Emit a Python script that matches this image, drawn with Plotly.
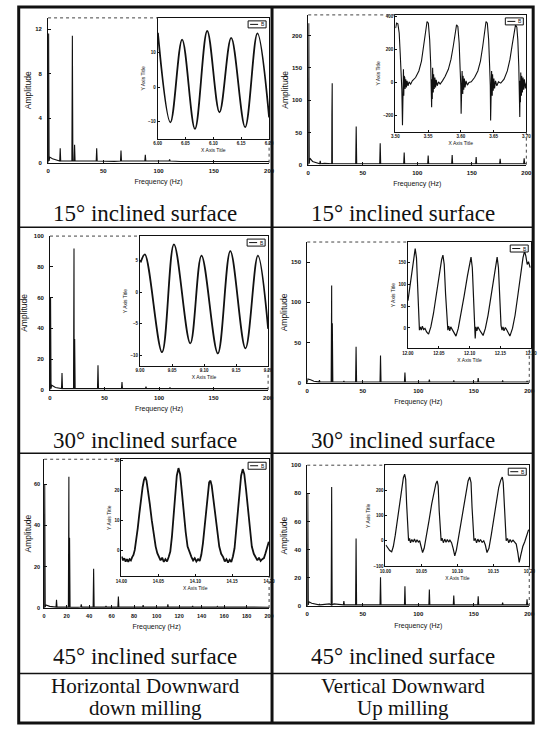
import plotly.graph_objects as go

W, H = 547, 734

# ---------------- text ----------------
row_captions = ["15° inclined surface", "30° inclined surface", "45° inclined surface"]
bottom_left_lines = ["Horizontal Downward", "down milling"]
bottom_right_lines = ["Vertical Downward", "Up milling"]
spec_x_title = "Frequency (Hz)"
spec_y_title = "Amplitude"
inset_x_title = "X Axis Title"
inset_y_title = "Y Axis Title"
legend_labels = ["B", "B", "B", "B", "B", "B"]

# ---------------- tick labels ----------------
freq_ticks = [0, 50, 100, 150, 200]
freq_ticks_fine = [0, 20, 40, 60, 80, 100, 120, 140, 160, 180, 200]
amp_ticks_1 = [0, 4, 8, 12]
amp_ticks_2 = [0, 50, 100, 150, 200]
amp_ticks_3 = [0, 20, 40, 60, 80, 100]
amp_ticks_4 = [0, 50, 100, 150]
amp_ticks_5 = [0, 20, 40, 60]
amp_ticks_6 = [0, 20, 40, 60, 80, 100]
amp_range = [13, 232, 100, 175, 72, 100]

ins_y_ticks_1 = [-10, 0, 10]
ins_y_ticks_2 = [-200, 0, 200, 400]
ins_y_ticks_3 = [-10, -5, 0, 5]
ins_y_ticks_4 = [0, 50, 100, 150]
ins_y_ticks_5 = [0, 10, 20, 30]
ins_y_ticks_6 = [-100, 0, 100, 200]
ins_y_range_1 = [-15, 20]
ins_y_range_2 = [-300, 410]
ins_y_range_3 = [-11.7, 8.9]
ins_y_range_4 = [-46, 196]
ins_y_range_5 = [-8.7, 30.35]
ins_y_range_6 = [-101.4, 299]
inset_start_s = [6.00, 3.50, 9.00, 12.00, 14.00, 10.00]

# ---------------- spectra (spike frequency / amplitude, baseline samples) ----------------
s1_peak_f = [0.5, 11, 22, 24, 44, 66, 88, 110]
s1_peak_a = [11.6, 1.3, 11.4, 1.6, 1.3, 1.1, 0.7, 0.3]
s1_base_f = [0, 1.5, 4, 8, 15, 60, 120, 200]
s1_base_a = [0.0, 0.5, 0.35, 0.22, 0.15, 0.12, 0.1, 0.1]
s1_floor = 0.15

s2_peak_f = [0.5, 11, 21.7, 22, 44, 66, 88, 110, 132, 154, 176, 198]
s2_peak_a = [219, 6, 76, 126, 59, 33, 19, 14, 15, 12, 9, 10]
s2_base_f = [0, 1.5, 4, 8, 15, 30, 100, 200]
s2_base_a = [0, 10, 5, 3, 2, 1.5, 1.5, 1.5]
s2_floor = 1.5

s3_peak_f = [0.5, 11, 22, 22.6, 44, 66, 88, 110, 132, 154, 176]
s3_peak_a = [60, 11, 92, 33, 16, 5, 2, 1.5, 1.2, 1, 1]
s3_base_f = [0, 1.5, 5, 10, 30, 200]
s3_base_a = [0, 3, 1.5, 1, 0.8, 0.8]
s3_floor = 0.8

s4_peak_f = [11, 22, 22.6, 33, 44, 66, 88, 110, 132, 154, 176, 198]
s4_peak_a = [3.5, 121, 74, 2.5, 45, 34, 13, 4, 3, 6, 3, 2]
s4_base_f = [0, 0.5, 3, 6, 10, 30, 200]
s4_base_a = [0, 5, 4, 2, 1.2, 1, 1]
s4_floor = 1.0

s5_peak_f = [0.5, 11, 22, 22.6, 33, 44, 55, 66, 77, 88, 110, 132, 154, 176]
s5_peak_a = [60, 4, 63.5, 34, 1.8, 19, 1, 5.6, 0.8, 1.4, 1.8, 1, 0.8, 0.7]
s5_base_f = [0, 1.5, 5, 10, 30, 200]
s5_base_a = [0, 1.5, 0.8, 0.5, 0.4, 0.4]
s5_floor = 0.45

s6_peak_f = [0.5, 11, 22, 33, 44, 66, 88, 110, 132, 154, 176, 198]
s6_peak_a = [80, 1.5, 84.6, 3.5, 48, 20.5, 14, 11.7, 7.5, 7, 2.5, 4.7]
s6_base_f = [0, 1.5, 4, 10, 20, 24, 30, 200]
s6_base_a = [0, 3, 2, 1, 1.5, 1.5, 0.8, 0.8]
s6_floor = 0.8

# ---------------- inset time signals (ms from start, value) ----------------
t1_ms = [0.5, 23, 44, 67, 89, 111, 132, 157, 179, 200]
v1 = [15.7, -10.2, 13.7, -12.1, 16.2, -7.3, 14.2, -11.6, 15.5, -8.8]

t2_ms = [0.5, 2, 4, 6, 7.5, 9, 10, 11, 11.5, 12, 12.5, 13, 13.5, 14, 14.5, 15, 16, 17, 18, 19.5,
         21, 23.5, 26, 31, 36, 40, 43.5, 46, 48.5, 50.5, 52.5, 54, 55, 55.5, 56, 56.5, 57, 58, 58.5,
         59.5, 60.5, 61.5, 62.5, 64, 66, 68.5, 72, 76, 81, 85, 88.5, 91, 93.5, 95.5, 97.5, 99, 100,
         100.5, 101, 101.5, 102, 103, 103.5, 104.5, 105.5, 106.5, 108, 110, 112.5, 116, 121, 126,
         130, 133.5, 136, 138.5, 140.5, 142.5, 144, 145, 145.5, 146, 146.5, 147, 148, 148.5, 149.5,
         150.5, 151.5, 153, 155, 157.5, 161, 166, 171, 175, 178.5, 181, 183.5, 185.5, 187, 188.5,
         189.5, 190, 190.5, 191, 191.5, 192.5, 193, 194, 195, 196, 197, 198.5, 200]
v2 = [330, 360, 356, 300, 180, 40, -40, -260, 20, -120, 80, -80, 40, -50, 30, -40, 20, -30, 10, -20,
      4, -10, 10, 30, 70, 130, 220, 310, 370, 360, 260, 120, 0, -150, 20, -100, 90, -60, 50,
      -40, 30, -30, 16, -20, 4, -10, 10, 36, 80, 140, 220, 300, 350, 340, 240, 80, -20,
      -190, 20, -120, 70, -70, 40, -44, 24, -30, 10, -16, 0, 4, 30, 70,
      130, 220, 300, 370, 360, 260, 100, -20, -230, 10, -120, 70, -80, 50, -50,
      24, -36, 10, -20, 4, -4, 20, 70, 140, 230, 300, 350, 336, 260, 100,
      -20, -210, 10, -120, 60, -80, 40, -60, 30, -44, 20, -36, 0]

t3_ms = [1, 7.6, 34.4, 53, 78.5, 96, 121.5, 141, 164.6, 184, 200]
v3 = [4.7, 6.0, -9.5, 7.6, -8.1, 5.8, -9.7, 6.5, -8.9, 5.8, -5.8]

t4_ms = [0, 3.7, 7.4, 10.1, 11.7, 13.8, 15.9, 17.5, 18.6, 20.1, 21.7, 23.3, 25.4, 27.6, 30.2, 33.4,
         37.1, 41.3, 46.1, 50.9, 54.6, 56.7, 58.8, 61, 63.1, 64.7, 66.2, 67.8, 69.4, 71.6, 74.2,
         77.9, 81.6, 85.9, 91.2, 96.5, 100.2, 102.3, 104.4, 106.5, 108.1, 109.1, 110.2, 111.8,
         113.4, 115.5, 118.2, 121.9, 125.6, 129.9, 134.6, 139.4, 142.6, 144.7, 146.8, 148.9, 151,
         152.6, 154.2, 155.8, 158, 160.6, 165.4, 169.6, 173.8, 178.6, 183.4, 186.6, 189.2, 191.3,
         193.5, 195.6, 198.2]
v4 = [62.5, 100, 145, 175, 181, 160, 85, 17.5, -5, 2.5, -5, 4, -3.5, -1, -9, -14,
      2.5, 32.5, 77.5, 126, 156, 166, 145, 77.5, 10, -5, 4, -6.5, 2.5, -3.5, -9,
      -18.5, -1, 29, 74, 119, 149, 161.5, 137.5, 70, 17.5, -24, 2.5, -6.5,
      2.5, -3.5, -9, -17, -1, 29, 74, 122.5, 152.5, 161.5, 137.5, 70, 6,
      -5, 2.5, -6.5, 1, -5, -18.5, -1, 29, 77.5, 130, 160, 175, 164,
      145, 151, 137.5]

t5_ms = [0.4, 2.2, 4.0, 5.7, 7.5, 9.3, 11.0, 12.8, 14.6, 16.3, 18.1, 19.9, 22.1, 24.3, 26.5, 28.7,
         30.5, 32.2, 34, 36.2, 38.4, 41.1, 43.7, 46.4, 48.6, 50.8, 53, 55.2, 57.4, 59.6, 61.8, 64,
         66.2, 68.4, 70.6, 72.8, 75, 77.3, 79.5, 81.7, 84.3, 87, 89.6, 92.3, 94.9, 97.1, 99.3,
         101.5, 103.8, 106, 108.2, 110.4, 112.6, 114.8, 117, 118.8, 120.6, 122.3, 124.5, 127.2,
         129.8, 132.5, 135.1, 137.8, 140, 142.2, 144.4, 146.6, 148.8, 151, 153.2, 155.4, 157.6,
         159.8, 162.1, 164.3, 166.4, 168.7, 171.3, 174, 176.6, 179.3, 181.9, 184.1, 186.3, 188.5,
         190.7, 193, 195.1, 197.4, 199.6]
v5 = [-2.1, -3.4, -2.7, -3.8, -3.0, -3.9, -3.0, -3.4, -2.3, -1.6, 0.1, 2.9, 7.3, 12.2, 17.2, 21,
      23.4, 24.5, 23.2, 19.9, 15.5, 10, 5.05, 1.2, -1, -2.1, -3.4, -2.5, -3.9, -3, -3.75, -2.3,
      -0.45, 4.5, 11.1, 18.8, 24.85, 27.4, 25.4, 19.9, 12.75, 6.15, 1.2, -1, -2.3, -3.4, -2.65,
      -3.75, -3, -3.6, -1.55, 2.3, 8.35, 14.4, 19.9, 22.65, 23.2, 21.55, 17.15, 11.1,
      5.6, 1.2, -1.2, -2.3, -3.75, -3, -4.1, -3.2, -3.9, -2.1, 0.65, 6.7, 13.85,
      20.45, 24.85, 27.05, 25.4, 20.45, 13.3, 6.15, 1.2, -1.2, -2.65, -3.4, -2.5, -3.6,
      -3, -2.65, -1, 0.65, 2.85]

t6_ms = [0.5, 3.2, 5.9, 8.6, 10.9, 13.6, 16.7, 19.9, 22.6, 24.9, 26.7, 28.1, 29.4, 30.8, 32.1, 33.5,
         34.8, 36.7, 38.5, 40.3, 42.1, 43.9, 45.7, 47.5, 49.3, 51.6, 53.8, 57, 60.6, 64.3, 67.4,
         70.1, 71.9, 73.3, 74.7, 76, 77.4, 78.7, 80.5, 82.4, 84.2, 86, 87.8, 89.6, 91.9, 94.1,
         96.4, 98.7, 101.8, 105.4, 109.1, 112.2, 114.9, 117.2, 119, 120.4, 121.7, 123.1, 124.9,
         126.7, 128.5, 130.3, 132.1, 134.4, 136.7, 138.9, 141.2, 143.9, 147.1, 150.7, 154.3,
         157.5, 160.2, 162.5, 163.8, 165.2, 166.5, 167.9, 169.7, 171.5, 173.3, 175.1, 177.4,
         179.7, 181.9, 184.2, 186, 188.3, 191, 193.7, 196, 199.1]
v6 = [-17, -30, -39, -44, -23, 22, 87, 159, 217, 250, 263, 243, 146, 42, 0, 9,
      -8, 5, -5, 6.5, -6.5, 4, -5, 0, -17, -47, -30, 15.6, 80.6, 145.6, 197.6,
      226, 236.6, 217, 119.6, 28.6, 0, 10.4, -7.8, 6.5, -6.5, 5.2, -5.2, 2.6, -7.8, -30,
      -60, -36, 15.6, 87, 152, 204, 236.6, 252, 230, 132.6, 35, 0, 9,
      -8, 6.5, -5, 5, -6.5, 0, -17, -47, -30, 22, 93.6, 159,
      210.6, 239, 252, 230, 126, 28.6, 0, 9, -8, 5, -5, 2.6,
      -4, -13, -49, -86, -56, -23, -4, 18, 44]

# ---------------- layout geometry (pixels) ----------------
spec_box = [(43, 269, 15, 161), (309, 532, 12, 163), (45, 268, 235, 390),
            (308, 535, 241, 383), (39, 269, 460, 610), (308, 535, 466, 608)]
inset_box = [(155, 269, 15, 137), (398, 532, 12, 130), (137, 268, 235, 366),
             (411, 537, 241, 348), (118, 269, 460, 578), (388, 535, 466, 568)]
y_title_standoff = [2, 2, 4, 2, 0, 2]
y_label_standoff = [4, 4, 4, 4, 2, 4]


def xd(l, r):
    return [l / W, r / W]


def yd(t, b):
    return [1 - b / H, 1 - t / H]


def spectrum_xy(pf, pa, bf, ba, floor):
    pts = list(zip(bf, ba))
    for f, a in zip(pf, pa):
        pts += [(max(f - 0.45, 0.01), floor), (f, a), (f + 0.45, floor)]
    pts.sort()
    return [p[0] for p in pts], [p[1] for p in pts]


spectra = [
    (s1_peak_f, s1_peak_a, s1_base_f, s1_base_a, s1_floor),
    (s2_peak_f, s2_peak_a, s2_base_f, s2_base_a, s2_floor),
    (s3_peak_f, s3_peak_a, s3_base_f, s3_base_a, s3_floor),
    (s4_peak_f, s4_peak_a, s4_base_f, s4_base_a, s4_floor),
    (s5_peak_f, s5_peak_a, s5_base_f, s5_base_a, s5_floor),
    (s6_peak_f, s6_peak_a, s6_base_f, s6_base_a, s6_floor),
]
amp_ticks = [amp_ticks_1, amp_ticks_2, amp_ticks_3, amp_ticks_4, amp_ticks_5, amp_ticks_6]
x_ticks = [freq_ticks, freq_ticks, freq_ticks, freq_ticks, freq_ticks_fine, freq_ticks]
insets = [(t1_ms, v1), (t2_ms, v2), (t3_ms, v3), (t4_ms, v4), (t5_ms, v5), (t6_ms, v6)]
ins_y_ticks = [ins_y_ticks_1, ins_y_ticks_2, ins_y_ticks_3, ins_y_ticks_4, ins_y_ticks_5, ins_y_ticks_6]
ins_y_ranges = [ins_y_range_1, ins_y_range_2, ins_y_range_3, ins_y_range_4, ins_y_range_5, ins_y_range_6]
ins_width = [1.8, 1.1, 1.8, 1.2, 1.8, 1.2]
ins_shape = ["spline", "linear", "spline", "linear", "linear", "linear"]

INK = "#111111"
SANS = "Liberation Sans, Arial, sans-serif"
SERIF = "Liberation Serif, Times New Roman, serif"

fig = go.Figure()
layout = dict(width=W, height=H, margin=dict(l=0, r=0, t=0, b=0), autosize=False,
              paper_bgcolor="white", plot_bgcolor="white", showlegend=False)
shapes = []
annotations = []


def aname(n):
    return "" if n == 1 else str(n)


for i in range(6):
    n = i + 1
    m = i + 7
    fx, fy = spectrum_xy(*spectra[i])
    fig.add_trace(go.Scatter(x=fx, y=fy, mode="lines", line=dict(color=INK, width=1.1),
                             xaxis="x" + aname(n), yaxis="y" + aname(n),
                             hoverinfo="skip", showlegend=False))
    ms, vals = insets[i]
    t = [inset_start_s[i] + v / 1000.0 for v in ms]
    fig.add_trace(go.Scatter(x=t, y=vals, mode="lines",
                             line=dict(color=INK, width=ins_width[i], shape=ins_shape[i]),
                             xaxis="x" + aname(m), yaxis="y" + aname(m),
                             hoverinfo="skip", showlegend=False, name=legend_labels[i]))

    l, r, tp, b = spec_box[i]
    tick_font = dict(family=SANS, size=6 if n != 5 else 5.5, color=INK, weight="bold")
    layout["xaxis" + aname(n)] = dict(
        domain=xd(l, r), anchor="y" + aname(n), range=[0, 200], tickvals=x_ticks[i],
        ticks="inside", ticklen=3, tickwidth=1, tickcolor=INK, showline=True, linecolor=INK,
        linewidth=1, showgrid=False, zeroline=False, tickfont=tick_font, ticklabelstandoff=2,
        title=dict(text=spec_x_title, font=dict(family=SANS, size=7, color=INK), standoff=6))
    layout["yaxis" + aname(n)] = dict(
        domain=yd(tp, b), anchor="x" + aname(n), range=[0, amp_range[i]], tickvals=amp_ticks[i],
        ticks="inside", ticklen=3, tickwidth=1, tickcolor=INK, showline=True, linecolor=INK,
        linewidth=1, showgrid=False, zeroline=False, tickfont=tick_font,
        ticklabelstandoff=y_label_standoff[i],
        title=dict(text=spec_y_title, font=dict(family=SANS, size=8.5, color=INK),
                   standoff=y_title_standoff[i]))

    il, ir, it, ib = inset_box[i]
    ins_font = dict(family=SANS, size=4.5, color=INK, weight="bold")
    t0 = inset_start_s[i]
    layout["xaxis" + aname(m)] = dict(
        domain=xd(il, ir), anchor="y" + aname(m), range=[t0, t0 + 0.2], tick0=t0, dtick=0.05,
        tickformat=".2f", ticks="inside", ticklen=2, tickcolor=INK, showline=True, mirror=True,
        linecolor=INK, linewidth=1, showgrid=False, zeroline=False, tickfont=ins_font,
        title=dict(text=inset_x_title, font=dict(family=SANS, size=5, color=INK), standoff=3))
    layout["yaxis" + aname(m)] = dict(
        domain=yd(it, ib), anchor="x" + aname(m), range=ins_y_ranges[i], tickvals=ins_y_ticks[i],
        ticks="inside", ticklen=2, tickcolor=INK, showline=True, mirror=True,
        linecolor=INK, linewidth=1, showgrid=False, zeroline=False, tickfont=ins_font,
        title=dict(text=inset_y_title, font=dict(family=SANS, size=5, color=INK), standoff=2))

    # dotted opposite frame of the spectrum plot, hidden behind the inset
    xr = "x" + aname(n) + " domain"
    yr = "y" + aname(n) + " domain"
    top_end = (il - l) / (r - l)
    right_end = (b - ib) / (b - tp)
    shapes.append(dict(type="line", xref=xr, yref=yr, x0=0, x1=top_end, y0=1, y1=1,
                       line=dict(color="#444444", width=1, dash="dot")))
    shapes.append(dict(type="line", xref=xr, yref=yr, x0=1, x1=1, y0=0, y1=right_end,
                       line=dict(color="#444444", width=1, dash="dot")))

    # inset legend
    xi = "x" + aname(m) + " domain"
    yi = "y" + aname(m) + " domain"
    shapes.append(dict(type="rect", xref=xi, yref=yi, xsizemode="pixel", ysizemode="pixel",
                       xanchor=1, yanchor=1, x0=-21, x1=-3, y0=-3, y1=-10,
                       line=dict(color=INK, width=1), fillcolor="white"))
    shapes.append(dict(type="line", xref=xi, yref=yi, xsizemode="pixel", ysizemode="pixel",
                       xanchor=1, yanchor=1, x0=-19, x1=-11, y0=-6.5, y1=-6.5,
                       line=dict(color=INK, width=1)))
    annotations.append(dict(text=legend_labels[i], xref=xi, yref=yi, x=1, y=1, xshift=-6.5,
                            yshift=-6.5, showarrow=False, xanchor="center", yanchor="middle",
                            font=dict(family=SANS, size=5, color=INK)))

# ---------------- table frame ----------------
L, R, T, B = 13, 539, 4, 726
MID = 272


def px(xp):
    return xp / W


def py(yp):
    return 1 - yp / H


shapes.append(dict(type="rect", xref="paper", yref="paper", x0=px(L), x1=px(R), y0=py(B), y1=py(T),
                   line=dict(color=INK, width=3)))
shapes.append(dict(type="line", xref="paper", yref="paper", x0=px(MID), x1=px(MID), y0=py(B), y1=py(T),
                   line=dict(color=INK, width=3)))
for yl in (226, 454, 676):
    shapes.append(dict(type="line", xref="paper", yref="paper", x0=px(L), x1=px(R), y0=py(yl), y1=py(yl),
                       line=dict(color=INK, width=1.5)))

cap_font = dict(family=SERIF, size=23, color=INK)
bot_font = dict(family=SERIF, size=21, color=INK)
col_centers = [(L + MID) / 2, (MID + R) / 2]
for k, yc in enumerate((212, 441, 659)):
    for cx in col_centers:
        annotations.append(dict(text=row_captions[k], xref="paper", yref="paper", x=px(cx), y=py(yc),
                                showarrow=False, xanchor="center", yanchor="middle", font=cap_font))
for j, yc in enumerate((689, 711)):
    annotations.append(dict(text=bottom_left_lines[j], xref="paper", yref="paper", x=px(col_centers[0]),
                            y=py(yc), showarrow=False, xanchor="center", yanchor="middle", font=bot_font))
    annotations.append(dict(text=bottom_right_lines[j], xref="paper", yref="paper", x=px(col_centers[1]),
                            y=py(yc), showarrow=False, xanchor="center", yanchor="middle", font=bot_font))

layout["shapes"] = shapes
layout["annotations"] = annotations
fig.update_layout(**layout)

fig.write_html("out.html", config={"displayModeBar": False},
               post_script="document.body.style.margin='0';document.body.style.overflow='hidden';")
